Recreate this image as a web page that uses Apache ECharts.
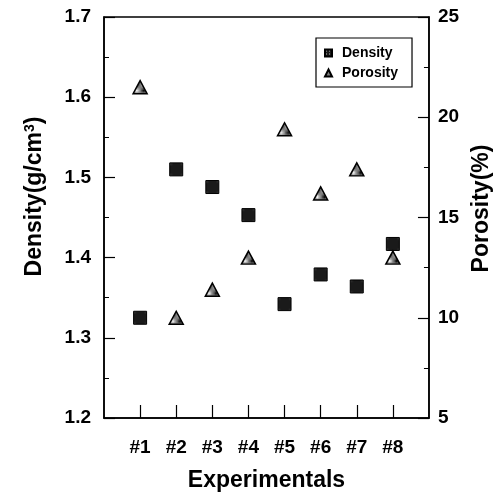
<!DOCTYPE html>
<html>
<head>
<meta charset="utf-8">
<script src="https://cdn.jsdelivr.net/npm/echarts@6/dist/echarts.min.js"></script>
<style>
  html, body { margin: 0; padding: 0; background: #fff; }
  #chart { width: 501px; height: 497px; }
</style>
</head>
<body>
<div id="chart"></div>
<script>
const categories = ['#1', '#2', '#3', '#4', '#5', '#6', '#7', '#8']
const density = [1.325, 1.51, 1.488, 1.453, 1.342, 1.379, 1.364, 1.417]
const porosity = [21.5, 10.0, 11.4, 13.0, 19.4, 16.2, 17.4, 13.0]
const densityTicks = [1.2, 1.3, 1.4, 1.5, 1.6, 1.7]
const porosityTicks = [5, 10, 15, 20, 25]

const font = '"Liberation Sans", Arial, sans-serif'

// dotted fills like the scanned markers
const makePattern = (bg, dot, size, cells) => {
  const c = document.createElement('canvas')
  c.width = size
  c.height = size
  const ctx = c.getContext('2d')
  ctx.fillStyle = bg
  ctx.fillRect(0, 0, size, size)
  ctx.fillStyle = dot
  cells.forEach(([x, y]) => ctx.fillRect(x, y, 1, 1))
  return c
}
const squareFill = { image: makePattern('#1a1a1a', '#bdbdbd', 3, [[1, 1]]), repeat: 'repeat' }
const triFill = { image: makePattern('#ffffff', '#000000', 2, [[0, 0], [1, 1]]), repeat: 'repeat' }

const chart = echarts.init(document.getElementById('chart'))

const nameStyle = {
  fontFamily: font,
  fontWeight: 'bold',
  fontSize: 23,
  color: '#000',
  rich: {
    sup: { fontFamily: font, fontWeight: 'bold', fontSize: 14, color: '#000', verticalAlign: 'top', padding: [0, 0, 10, 0] }
  }
}

const option = {
  backgroundColor: '#fff',
  animation: false,
  grid: {
    show: true,
    left: 104,
    right: 70,
    top: 17,
    bottom: 75,
    borderColor: '#000',
    borderWidth: 1.5
  },
  legend: {
    left: 316,
    top: 38,
    width: 80,
    orient: 'vertical',
    itemWidth: 7,
    itemHeight: 7,
    itemGap: 6,
    padding: [8, 14, 7, 8],
    borderColor: '#000',
    borderWidth: 1.2,
    textStyle: { fontFamily: font, fontWeight: 'bold', fontSize: 14, color: '#000', padding: [0, 0, 0, 5] },
    data: ['Density', 'Porosity']
  },
  xAxis: {
    type: 'value',
    min: 0,
    max: categories.length + 1,
    interval: 1,
    name: 'Experimentals',
    nameLocation: 'middle',
    nameGap: 51,
    nameTextStyle: nameStyle,
    splitLine: { show: false },
    axisLine: { lineStyle: { color: '#000', width: 1.5 } },
    axisTick: {
      inside: true,
      length: 13,
      customValues: categories.map((c, i) => i + 1),
      lineStyle: { color: '#000', width: 1.2 }
    },
    axisLabel: {
      margin: 20,
      customValues: categories.map((c, i) => i + 1),
      formatter: (v) => categories[v - 1] || '',
      fontFamily: font,
      fontWeight: 'bold',
      fontSize: 19,
      color: '#000'
    }
  },
  yAxis: [
    {
      type: 'value',
      min: densityTicks[0],
      max: densityTicks[densityTicks.length - 1],
      interval: 0.1,
      name: 'Density(g/cm{sup|3})',
      nameLocation: 'middle',
      nameRotate: 90,
      nameGap: 57,
      nameTextStyle: Object.assign({}, nameStyle, { padding: [0, 0, 0, 42] }),
      splitLine: { show: false },
      axisLine: { show: true, lineStyle: { color: '#000', width: 1.5 } },
      axisTick: { inside: true, length: 11, lineStyle: { color: '#000', width: 1.2 } },
      minorTick: { show: true, splitNumber: 2, length: 5, lineStyle: { color: '#000', width: 1 } },
      axisLabel: {
        margin: 13,
        formatter: (v) => v.toFixed(1),
        fontFamily: font,
        fontWeight: 'bold',
        fontSize: 19,
        color: '#000'
      }
    },
    {
      type: 'value',
      position: 'right',
      min: porosityTicks[0],
      max: porosityTicks[porosityTicks.length - 1],
      interval: 5,
      name: 'Porosity(%)',
      nameLocation: 'middle',
      nameRotate: 90,
      nameGap: 38,
      nameTextStyle: Object.assign({}, nameStyle, { padding: [0, 0, 0, 18] }),
      splitLine: { show: false },
      axisLine: { show: true, lineStyle: { color: '#000', width: 1.5 } },
      axisTick: { inside: true, length: 11, lineStyle: { color: '#000', width: 1.2 } },
      minorTick: { show: true, splitNumber: 2, length: 5, lineStyle: { color: '#000', width: 1 } },
      axisLabel: {
        margin: 9,
        fontFamily: font,
        fontWeight: 'bold',
        fontSize: 19,
        color: '#000'
      }
    }
  ],
  series: [
    {
      name: 'Density',
      type: 'scatter',
      yAxisIndex: 0,
      symbol: 'rect',
      symbolSize: 13,
      itemStyle: { color: squareFill, borderColor: '#000', borderWidth: 1, opacity: 1 },
      data: density.map((v, i) => [i + 1, v])
    },
    {
      name: 'Porosity',
      type: 'scatter',
      yAxisIndex: 1,
      symbol: 'triangle',
      symbolSize: [14, 13],
      itemStyle: { color: triFill, borderColor: '#000', borderWidth: 1.5, opacity: 1 },
      data: porosity.map((v, i) => [i + 1, v])
    }
  ]
}

chart.setOption(option, true)
</script>
</body>
</html>
